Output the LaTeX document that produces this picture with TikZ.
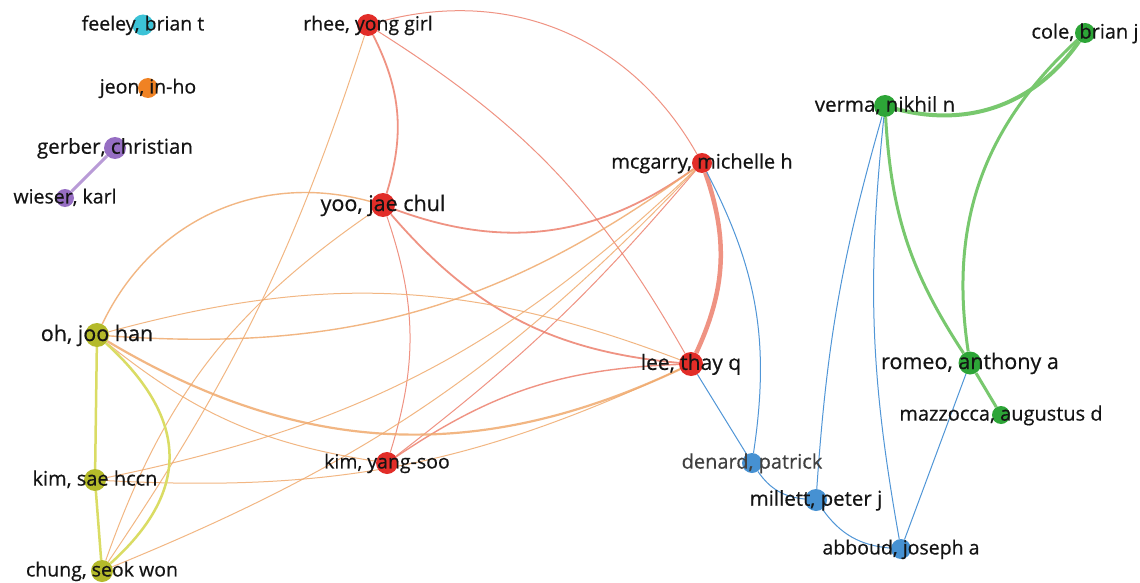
\documentclass[tikz,border=0pt]{standalone}
\usepackage{fontspec}
\setmainfont{Open Sans}
\newfontfamily\labfont{Open Sans}[FakeBold=0.5]
\pgfdeclarelayer{background}
\pgfsetlayers{background,main}
\definecolor{cRed}{RGB}{226,45,40}
\definecolor{cYel}{RGB}{180,186,42}
\definecolor{cGrn}{RGB}{45,165,55}
\definecolor{cBlu}{RGB}{70,145,210}
\definecolor{cPur}{RGB}{150,110,195}
\definecolor{cOra}{RGB}{240,130,35}
\definecolor{cCya}{RGB}{60,195,215}
\definecolor{eRed}{RGB}{236,120,100}
\definecolor{eCross}{RGB}{240,170,110}
\definecolor{eYel}{RGB}{218,220,100}
\definecolor{eBlu}{RGB}{80,150,215}
\definecolor{eGrn}{RGB}{120,200,110}
\definecolor{ePur}{RGB}{185,155,215}
\begin{document}
\begin{tikzpicture}[x=1pt,y=-1pt,
  dot/.style={circle,fill=#1,draw=none,inner sep=0pt},
  lab/.style={anchor=base,yshift={-0.28pt*#1},inner sep=0pt,text=black!92,font={\labfont\fontsize{#1}{#1}\selectfont}},
  redE/.style={draw=eRed,opacity=.8,line width=1pt},
  crossE/.style={draw=eCross,opacity=.85,line width=1pt},
  yelE/.style={draw=eYel,line width=2.5pt},
  bluE/.style={draw=eBlu,line width=1pt},
  grnE/.style={draw=eGrn,line width=3pt},
  purE/.style={draw=ePur,line width=3pt}]
\useasboundingbox (0,0) rectangle (1140,583);
% circles
\node[dot=cCya,minimum size=21pt] (feeley) at (143,25) {};
\node[dot=cOra,minimum size=20pt] (jeon) at (148,88) {};
\node[dot=cPur,minimum size=22pt] (gerber) at (115,148) {};
\node[dot=cPur,minimum size=18pt] (wieser) at (65,198) {};
\node[dot=cRed,minimum size=22pt] (rhee) at (368,25) {};
\node[dot=cRed,minimum size=24pt] (yoo) at (383,205) {};
\node[dot=cRed,minimum size=20pt] (mcgarry) at (702,163) {};
\node[dot=cRed,minimum size=24pt] (lee) at (691,364) {};
\node[dot=cRed,minimum size=22pt] (kimys) at (387,463) {};
\node[dot=cYel,minimum size=24pt] (oh) at (97,335) {};
\node[dot=cYel,minimum size=22pt] (kimsae) at (95,480) {};
\node[dot=cYel,minimum size=22pt] (chung) at (102,571) {};
\node[dot=cGrn,minimum size=22pt] (verma) at (885,106) {};
\node[dot=cGrn,minimum size=20pt] (cole) at (1085,33) {};
\node[dot=cGrn,minimum size=23pt] (romeo) at (970,363) {};
\node[dot=cGrn,minimum size=18pt] (mazz) at (1001,415) {};
\node[dot=cBlu,minimum size=20pt] (denard) at (752,463) {};
\node[dot=cBlu,minimum size=22pt] (millett) at (816,500) {};
\node[dot=cBlu,minimum size=20pt] (abboud) at (901,549) {};
% edges
\begin{pgfonlayer}{background}
\fill[white] (0,0) rectangle (1140,583);
\draw[purE] (gerber) -- (wieser);
% red cluster
\draw[redE,line width=1.8pt] (rhee) to[bend left=22] (yoo);
\draw[redE] (rhee) to[bend left=38] (mcgarry);
\draw[redE] (rhee) to[bend left=14] (lee);
\draw[crossE] (rhee) to[bend left=8] (chung);
\draw[redE,line width=1.8pt] (yoo) to[bend right=28] (mcgarry);
\draw[redE,line width=1.8pt] (yoo) to[bend right=22] (lee);
\draw[redE] (yoo) to[bend left=18] (kimys);
\draw[crossE] (yoo) to[bend right=18] (chung);
\draw[redE,line width=4.5pt] (mcgarry) to[bend left=22] (lee);
\draw[redE] (mcgarry) to[bend left=6] (kimys);
\draw[crossE] (mcgarry) to[bend left=12] (chung);
\draw[crossE] (mcgarry) to[bend left=16] (kimsae);
\draw[redE,line width=1.4pt] (lee) to[bend right=16] (kimys);
\draw[crossE] (lee) to[bend left=14] (kimsae);
% oh links
\draw[crossE,line width=1.4pt] (oh) to[bend left=40] (yoo);
\draw[crossE,line width=1.4pt] (oh) to[bend right=20] (mcgarry);
\draw[crossE,line width=2.2pt] (oh) to[bend right=28] (lee);
\draw[crossE] (oh) to[bend left=18] (lee);
\draw[crossE] (oh) to[bend right=15] (kimys);
% yellow cluster
\draw[yelE] (oh) -- (kimsae);
\draw[yelE] (kimsae) -- (chung);
\draw[yelE] (oh) .. controls (190,420) and (190,492) .. (chung);
% blue
\draw[bluE] (mcgarry) to[bend left=18] (denard);
\draw[bluE] (lee) -- (denard);
\draw[bluE] (denard) to[bend right=25] (millett);
\draw[bluE] (millett) to[bend right=25] (abboud);
\draw[bluE] (verma) to[bend right=6] (millett);
\draw[bluE] (verma) to[bend right=8] (abboud);
\draw[bluE] (romeo) -- (abboud);
% green
\draw[grnE,line width=4pt] (verma) to[bend right=35] (cole);
\draw[grnE] (cole) to[bend right=28] (romeo);
\draw[grnE] (verma) to[bend right=15] (romeo);
\draw[grnE] (romeo) -- (mazz);
\end{pgfonlayer}
% labels
\node[lab=19.5] (lfeeley) at (feeley.center) {feeley, brian t};
\node[lab=19.5] (ljeon) at (jeon.center) {jeon, in-ho};
\node[lab=20.5] (lgerber) at (gerber.center) {gerber, christian};
\node[lab=19.5] (lwieser) at (wieser.center) {wieser, karl};
\node[lab=19.5] (lrhee) at (rhee.center) {rhee, yong girl};
\node[lab=21.5] (lyoo) at (yoo.center) {yoo, jae chul};
\node[lab=20] (lmcgarry) at (mcgarry.center) {mcgarry, michelle h};
\node[lab=21] (llee) at (lee.center) {lee, thay q};
\node[lab=19.5] (lkimys) at (kimys.center) {kim, yang-soo};
\node[lab=21.5] (loh) at (oh.center) {oh, joo han};
\node[lab=20] (lkimsae) at (kimsae.center) {kim, sae hccn};
\node[lab=19.5] (lchung) at (chung.center) {chung, seok won};
\node[lab=20.5] (lverma) at (verma.center) {verma, nikhil n};
\node[lab=20] (lcole) at (cole.center) {cole, brian j};
\node[lab=21.5] (lromeo) at (romeo.center) {romeo, anthony a};
\node[lab=20] (lmazz) at (mazz.center) {mazzocca, augustus d};
\node[lab=20,text=black!75] (ldenard) at (denard.center) {denard, patrick};
\node[lab=20.5] (lmillett) at (millett.center) {millett, peter j};
\node[lab=19.5] (labboud) at (abboud.center) {abboud, joseph a};
\end{tikzpicture}
\end{document}
